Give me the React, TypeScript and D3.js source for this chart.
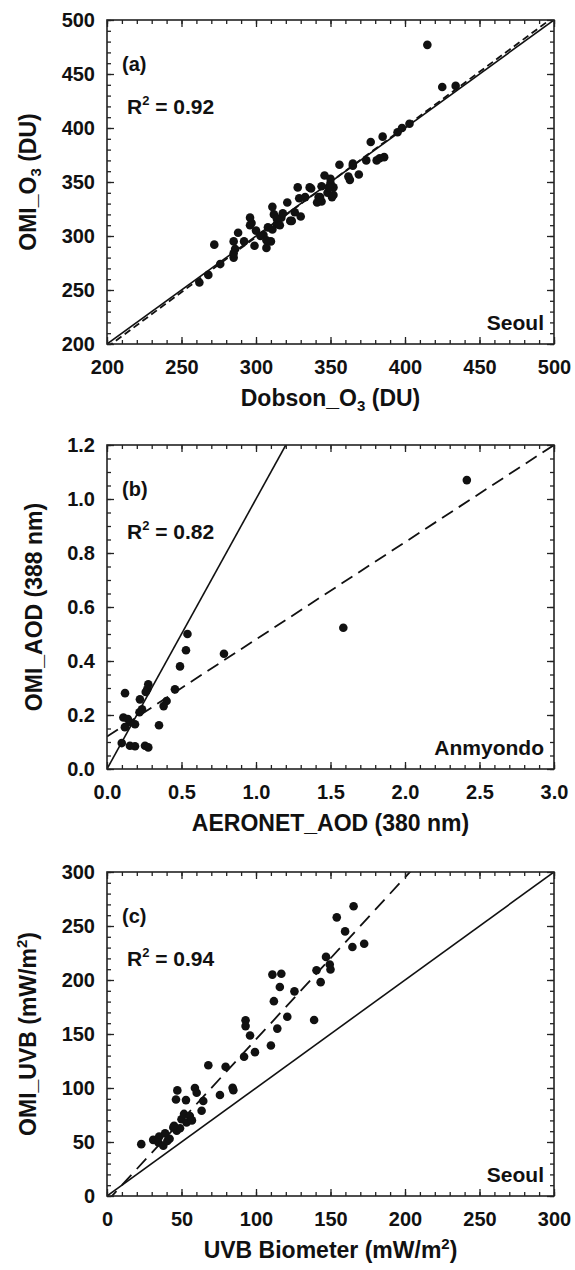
import React, { useEffect, useRef } from 'react';
import * as d3 from 'd3';

// (a) total ozone, Seoul: [Dobson_O3, OMI_O3]
const ozonePoints: [number, number][] = [
  [415, 477], [425, 438], [434, 439], [403, 404], [398, 400], [395, 396], [385, 392], [377, 387],
  [386, 373], [383, 372], [381, 370], [374, 370], [365, 367], [356, 366], [369, 357], [363, 352],
  [346, 356], [350, 349], [351, 336], [344, 346], [348, 340], [350, 353], [352, 345], [342, 336],
  [344, 332], [336, 345], [328, 345], [329, 335], [321, 331], [330, 318], [324, 314], [317, 317],
  [314, 311], [311, 327], [312, 320], [308, 308], [310, 295], [307, 289], [305, 301], [300, 305],
  [296, 317], [297, 312], [299, 291], [292, 295], [288, 303], [285, 295], [286, 288], [285, 280],
  [272, 292], [276, 274], [268, 264], [262, 257], [285, 284], [296, 310], [303, 300], [307, 296],
  [311, 306], [314, 316], [316, 310], [318, 321], [323, 314], [326, 322], [333, 336], [337, 344],
  [341, 331], [343, 336], [349, 345], [352, 338], [362, 355], [365, 365],
];
const ozoneFit: [number, number] = [1.02, -7]; // slope, intercept of the dashed line
const ozoneTicks = [200, 250, 300, 350, 400, 450, 500];

// (b) aerosol optical depth, Anmyondo: [AERONET_AOD, OMI_AOD]
const aodPoints: [number, number][] = [
  [0.54, 0.5], [0.53, 0.44], [0.49, 0.38], [0.785, 0.427], [0.456, 0.295], [0.4, 0.252],
  [0.38, 0.233], [0.349, 0.162], [0.277, 0.314], [0.27, 0.295], [0.26, 0.285], [0.221, 0.258],
  [0.235, 0.221], [0.218, 0.21], [0.188, 0.166], [0.154, 0.173], [0.121, 0.281], [0.11, 0.191],
  [0.12, 0.155], [0.14, 0.185], [0.099, 0.096], [0.154, 0.086], [0.188, 0.084], [0.255, 0.086],
  [0.277, 0.08], [1.586, 0.523], [2.415, 1.07],
];
const aodFit: [number, number] = [0.36, 0.12];
const aodTicksX = [0, 0.5, 1, 1.5, 2, 2.5, 3];
const aodTicksY = [0, 0.2, 0.4, 0.6, 0.8, 1.0, 1.2];

// (c) UVB, Seoul: [UVB Biometer, OMI_UVB]
const uvbPoints: [number, number][] = [
  [23, 48], [31, 52], [35, 55], [34.5, 49.6], [37.8, 46.6], [40.5, 51], [39, 58], [42, 53],
  [44.5, 63.5], [46.8, 60.5], [49, 62.7], [46.3, 89.4], [47.2, 97.8], [53, 88.8], [50, 71],
  [51.7, 76], [53.4, 68], [55.6, 74], [57, 70], [45, 65], [59, 100], [60.2, 95.6], [63.5, 79],
  [64.6, 88], [68, 121], [75.8, 93.5], [79.6, 119.6], [84.3, 100.2], [84.8, 98], [92, 129],
  [93, 162.8], [93, 157.3], [96, 148.6], [99.3, 133.2], [110, 139.4], [112, 180.4], [111, 205],
  [117, 205.8], [116, 193.5], [114.3, 155], [121, 166], [125.8, 189.5], [139, 163], [140.6, 209],
  [143.4, 198], [147, 221.4], [149.5, 214.4], [150, 209.7], [154.2, 258], [159.8, 245],
  [164.7, 230.6], [165.5, 268.3], [172.6, 233.5],
];
const uvbFit: [number, number] = [1.5, -5];
const uvbTicks = [0, 50, 100, 150, 200, 250, 300];

const FONT = "'Liberation Sans', Arial, sans-serif";
const left = 107;
const right = 554;
const plotH = 324;

const panels = [
  {
    id: 'a', top: 20, points: ozonePoints, fit: ozoneFit, xTicks: ozoneTicks, yTicks: ozoneTicks,
    xMinor: 10, yMinor: 10, fmtX: d3.format('d'), fmtY: d3.format('d'), dash: '7,4',
    label: '(a)', r2: '0.92', site: 'Seoul', yTitleX: 28,
    xTitle: [{ t: 'Dobson_O' }, { t: '3', sub: true }, { t: ' (DU)' }],
    yTitle: [{ t: 'OMI_O' }, { t: '3', sub: true }, { t: ' (DU)' }],
  },
  {
    id: 'b', top: 445, points: aodPoints, fit: aodFit, xTicks: aodTicksX, yTicks: aodTicksY,
    xMinor: 0.1, yMinor: 0.05, fmtX: d3.format('.1f'), fmtY: d3.format('.1f'), dash: '13,7',
    label: '(b)', r2: '0.82', site: 'Anmyondo', yTitleX: 34,
    xTitle: [{ t: 'AERONET_AOD (380 nm)' }],
    yTitle: [{ t: 'OMI_AOD (388 nm)' }],
  },
  {
    id: 'c', top: 872, points: uvbPoints, fit: uvbFit, xTicks: uvbTicks, yTicks: uvbTicks,
    xMinor: 10, yMinor: 10, fmtX: d3.format('d'), fmtY: d3.format('d'), dash: '14,8',
    label: '(c)', r2: '0.94', site: 'Seoul', yTitleX: 28,
    xTitle: [{ t: 'UVB Biometer (mW/m' }, { t: '2', sup: true }, { t: ')' }],
    yTitle: [{ t: 'OMI_UVB (mW/m' }, { t: '2', sup: true }, { t: ')' }],
  },
];

// text with sub/superscript pieces
const addRich = (sel, parts, small) => {
  let shift = 0;
  parts.forEach(p => {
    const ts = sel.append('tspan').text(p.t);
    const target = p.sub ? 5 : p.sup ? -9 : 0;
    if (target !== shift) ts.attr('dy', target - shift);
    shift = target;
    if (p.sub || p.sup) ts.attr('font-size', small);
  });
};

const range = (lo, hi, step) => {
  const n = Math.round((hi - lo) / step);
  return d3.range(n + 1).map(i => lo + i * step);
};

const drawPanel = (svg, p) => {
  const xDom = [p.xTicks[0], p.xTicks[p.xTicks.length - 1]];
  const yDom = [p.yTicks[0], p.yTicks[p.yTicks.length - 1]];
  const bottom = p.top + plotH;
  const x = d3.scaleLinear().domain(xDom).range([left, right]);
  const y = d3.scaleLinear().domain(yDom).range([bottom, p.top]);

  svg.append('defs').append('clipPath').attr('id', 'clip-' + p.id)
    .append('rect')
    .attr('x', left).attr('y', p.top)
    .attr('width', right - left).attr('height', plotH);

  const g = svg.append('g');
  const line = d3.line().x(d => x(d[0])).y(d => y(d[1]));

  // 1:1 line
  const lo = Math.max(xDom[0], yDom[0]);
  const hi = Math.min(xDom[1], yDom[1]);
  g.append('path')
    .datum([[lo, lo], [hi, hi]])
    .attr('d', line)
    .attr('clip-path', `url(#clip-${p.id})`)
    .style('fill', 'none')
    .style('stroke', '#111')
    .style('stroke-width', 1.6);

  // regression line (dashed)
  const [m, b] = p.fit;
  g.append('path')
    .datum(xDom.map(v => [v, m * v + b]))
    .attr('d', line)
    .attr('clip-path', `url(#clip-${p.id})`)
    .style('fill', 'none')
    .style('stroke', '#111')
    .style('stroke-width', 1.8)
    .style('stroke-dasharray', p.dash);

  g.selectAll('.dot')
    .data(p.points)
    .enter()
    .append('circle')
    .attr('class', 'dot')
    .attr('cx', d => x(d[0]))
    .attr('cy', d => y(d[1]))
    .attr('r', 4.3)
    .style('fill', '#111');

  // ticks on all four sides, pointing in
  const xMinorTicks = range(xDom[0], xDom[1], p.xMinor);
  const yMinorTicks = range(yDom[0], yDom[1], p.yMinor);
  const axes = [
    [d3.axisBottom(x).tickValues(xMinorTicks).tickSize(-4).tickFormat(() => ''), `translate(0,${bottom})`],
    [d3.axisTop(x).tickValues(xMinorTicks).tickSize(-4).tickFormat(() => ''), `translate(0,${p.top})`],
    [d3.axisLeft(y).tickValues(yMinorTicks).tickSize(-4).tickFormat(() => ''), `translate(${left},0)`],
    [d3.axisRight(y).tickValues(yMinorTicks).tickSize(-4).tickFormat(() => ''), `translate(${right},0)`],
    [d3.axisTop(x).tickValues(p.xTicks).tickSize(-7).tickFormat(() => ''), `translate(0,${p.top})`],
    [d3.axisRight(y).tickValues(p.yTicks).tickSize(-7).tickFormat(() => ''), `translate(${right},0)`],
    [d3.axisBottom(x).tickValues(p.xTicks).tickSize(-7).tickPadding(16).tickFormat(p.fmtX), `translate(0,${bottom})`],
    [d3.axisLeft(y).tickValues(p.yTicks).tickSize(-7).tickPadding(12).tickFormat(p.fmtY), `translate(${left},0)`],
  ];
  axes.forEach(([ax, tr]) => {
    const a = g.append('g').attr('transform', tr).call(ax);
    a.select('.domain').remove();
    a.selectAll('line').style('stroke', '#222').style('stroke-width', 1.3);
    a.attr('font-family', FONT).attr('font-size', 20).attr('font-weight', 'bold');
    a.selectAll('text').style('fill', '#111');
  });

  g.append('rect')
    .attr('x', left).attr('y', p.top)
    .attr('width', right - left).attr('height', plotH)
    .style('fill', 'none')
    .style('stroke', '#222')
    .style('stroke-width', 1.6);

  const txt = g.append('g')
    .attr('font-family', FONT)
    .attr('font-weight', 'bold')
    .style('fill', '#111');

  txt.append('text')
    .attr('x', left + 15).attr('y', p.top + 51)
    .attr('font-size', 20)
    .text(p.label);

  const r2 = txt.append('text')
    .attr('x', left + 20).attr('y', p.top + 94)
    .attr('font-size', 21);
  addRich(r2, [{ t: 'R' }, { t: '2', sup: true }, { t: ' = ' + p.r2 }], 13);

  txt.append('text')
    .attr('x', right - 10).attr('y', bottom - 14)
    .attr('text-anchor', 'end')
    .attr('font-size', 21)
    .text(p.site);

  const xt = txt.append('text')
    .attr('x', (left + right) / 2).attr('y', bottom + 62)
    .attr('text-anchor', 'middle')
    .attr('font-size', 23);
  addRich(xt, p.xTitle, 15);

  const yt = txt.append('text')
    .attr('transform', `translate(${p.yTitleX},${p.top + plotH / 2}) rotate(-90)`)
    .attr('dy', '0.35em')
    .attr('text-anchor', 'middle')
    .attr('font-size', 23);
  addRich(yt, p.yTitle, 15);
};

const App = () => {
  const svgRef = useRef(null);

  useEffect(() => {
    document.body.style.margin = '0';
    const svg = d3.select(svgRef.current);
    svg.selectAll('*').remove();
    panels.forEach(p => drawPanel(svg, p));
  }, []);

  return (
    <svg ref={svgRef} width={575} height={1270} style={{ display: 'block', background: '#fff' }}></svg>
  );
};

export default App;
